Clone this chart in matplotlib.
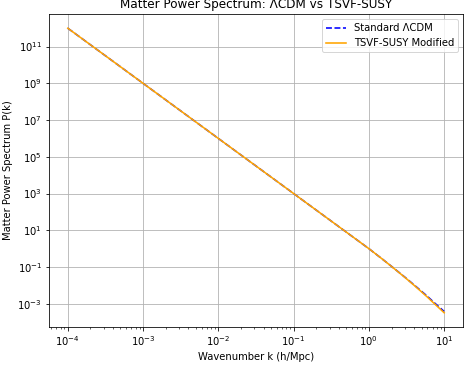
import numpy as np
import matplotlib
matplotlib.use("Agg")
import matplotlib.pyplot as plt

# Wavenumber samples (h/Mpc)
k = [1e-4, 1e-3, 1e-2, 1e-1, 1.0, 1.5, 2.0, 3.0, 4.0, 5.0, 6.0, 7.0, 8.5, 10.0]
# log10 P(k)
logP_lcdm = [12.0, 9.0, 6.0, 3.0, 0.0, -0.56, -0.965, -1.55, -1.98, -2.32, -2.60, -2.855, -3.165, -3.42]
logP_tsvf = [12.0, 9.0, 6.0, 3.0, 0.0, -0.56, -0.97, -1.56, -2.00, -2.35, -2.64, -2.90, -3.22, -3.49]

P_lcdm = [10 ** v for v in logP_lcdm]
P_tsvf = [10 ** v for v in logP_tsvf]

fig = plt.figure(figsize=(468 / 72, 365 / 72), dpi=72)
ax = fig.add_axes([49 / 468, 38 / 365, (463 - 49) / 468, (327 - 14) / 365])

ax.loglog(k, P_lcdm, '--', color='blue', lw=1.6, label='Standard ΛCDM')
ax.loglog(k, P_tsvf, '-', color='orange', lw=1.6, label='TSVF-SUSY Modified')

ax.set_xlabel('Wavenumber k (h/Mpc)')
ax.set_ylabel('Matter Power Spectrum P(k)')
ax.set_title('Matter Power Spectrum: ΛCDM vs TSVF-SUSY')
ax.legend(loc='upper right')
ax.grid(True)

fig.savefig('out.png', dpi=72)
